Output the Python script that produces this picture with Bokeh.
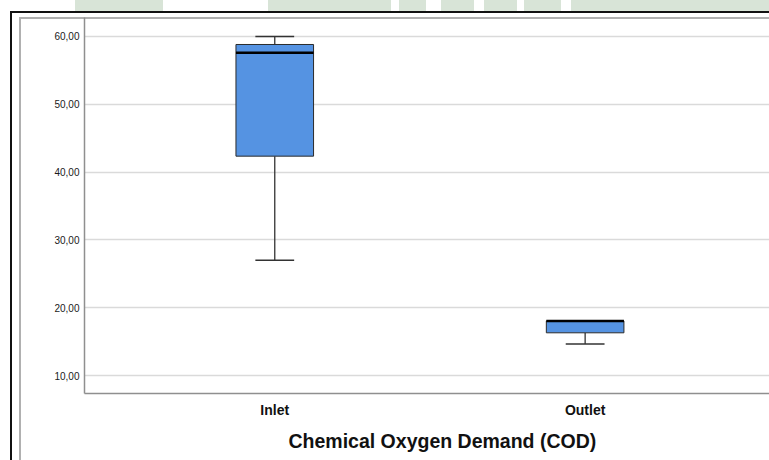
from bokeh.plotting import figure
from bokeh.models import Range1d, FixedTicker, Title, InlineStyleSheet
from bokeh.embed import file_html
from bokeh.resources import INLINE

# Chemical Oxygen Demand (COD) summary per sampling point
categories = ["Inlet", "Outlet"]
whisker_low = [27.0, 14.65]
q1 = [42.35, 16.30]
median = [57.6, 18.05]
q3 = [58.82, 18.05]
whisker_high = [60.0, 18.05]

y_ticks = [10, 20, 30, 40, 50, 60]
y_tick_labels = ["10,00", "20,00", "30,00", "40,00", "50,00", "60,00"]

title_text = "Chemical Oxygen Demand (COD)"

FONT = "Liberation Sans"
BOX_FILL = "#5593e2"
BOX_WIDTH = 0.25
CAP_WIDTH = 0.125

positions = [i + 1 for i in range(len(categories))]

p = figure(
    width=769, height=460,
    x_range=Range1d(0.387, 2.594),
    y_range=Range1d(7.35, 62.8),
    output_backend="svg", toolbar_location=None,
    min_border_left=84, min_border_right=0,
    min_border_top=17, min_border_bottom=67,
)
p.outline_line_color = None
p.background_fill_alpha = 0
p.border_fill_alpha = 0

# page banner strip and the double chart frame, painted behind the canvas
blocks = [(75, 163), (268, 391), (399, 426), (441, 474), (484, 517), (524, 561), (571, 769)]
layers = []
for left, right in blocks:
    layers.append(("#d8e4d7", left, 0, right - left, 11))
layers += [
    ("#111111", 10, 11, 2, 449),
    ("#111111", 10, 11, 759, 2),
    ("#b0b0b0", 19, 17, 2, 443),
    ("#b0b0b0", 19, 17, 750, 2),
]
css = ":host { background-color: #ffffff; background-repeat: no-repeat; "
css += "background-image: " + ", ".join(f"linear-gradient({c}, {c})" for c, *_ in layers) + "; "
css += "background-position: " + ", ".join(f"{x}px {y}px" for _, x, y, _w, _h in layers) + "; "
css += "background-size: " + ", ".join(f"{w}px {h}px" for *_, w, h in layers) + "; }"
p.stylesheets = [InlineStyleSheet(css=css)]

# axes
p.xaxis.ticker = FixedTicker(ticks=positions)
p.xaxis.major_label_overrides = {pos: name for pos, name in zip(positions, categories)}
p.yaxis.ticker = FixedTicker(ticks=y_ticks)
p.yaxis.major_label_overrides = {t: lab for t, lab in zip(y_ticks, y_tick_labels)}

for ax in (p.xaxis[0], p.yaxis[0]):
    ax.axis_line_color = "#8f8f8f"
    ax.axis_line_width = 1.5
    ax.major_tick_line_color = None
    ax.minor_tick_line_color = None
    ax.major_tick_out = 0
    ax.major_tick_in = 0

p.yaxis.major_label_text_font = FONT
p.yaxis.major_label_text_font_size = "10px"
p.yaxis.major_label_text_color = "#1a1a1a"
p.yaxis.major_label_standoff = 5

p.xaxis.major_label_text_font = FONT
p.xaxis.major_label_text_font_size = "14px"
p.xaxis.major_label_text_font_style = "bold"
p.xaxis.major_label_text_color = "#111111"
p.xaxis.major_label_standoff = 8

p.xgrid.grid_line_color = None
p.ygrid.ticker = FixedTicker(ticks=y_ticks)
p.ygrid.grid_line_color = "#dadada"
p.ygrid.grid_line_width = 1.5

# whiskers and caps
p.segment(x0=positions, y0=q3, x1=positions, y1=whisker_high, line_color="#333333", line_width=1.3)
p.segment(x0=positions, y0=q1, x1=positions, y1=whisker_low, line_color="#333333", line_width=1.3)
p.segment(x0=[x - CAP_WIDTH / 2 for x in positions], y0=whisker_high,
          x1=[x + CAP_WIDTH / 2 for x in positions], y1=whisker_high,
          line_color="#333333", line_width=1.3)
p.segment(x0=[x - CAP_WIDTH / 2 for x in positions], y0=whisker_low,
          x1=[x + CAP_WIDTH / 2 for x in positions], y1=whisker_low,
          line_color="#333333", line_width=1.3)

# boxes and medians
p.vbar(x=positions, width=BOX_WIDTH, bottom=q1, top=q3,
       fill_color=BOX_FILL, line_color="#2b2b2b", line_width=1)
p.segment(x0=[x - BOX_WIDTH / 2 for x in positions], y0=median,
          x1=[x + BOX_WIDTH / 2 for x in positions], y1=median,
          line_color="black", line_width=2.5)

# chart title under the category axis
p.add_layout(Title(text=title_text, align="left", offset=204, standoff=15,
                   text_font=FONT, text_font_size="19.5px", text_font_style="bold",
                   text_color="#111111"), "below")

open("out.html", "w").write(file_html(p, INLINE))
